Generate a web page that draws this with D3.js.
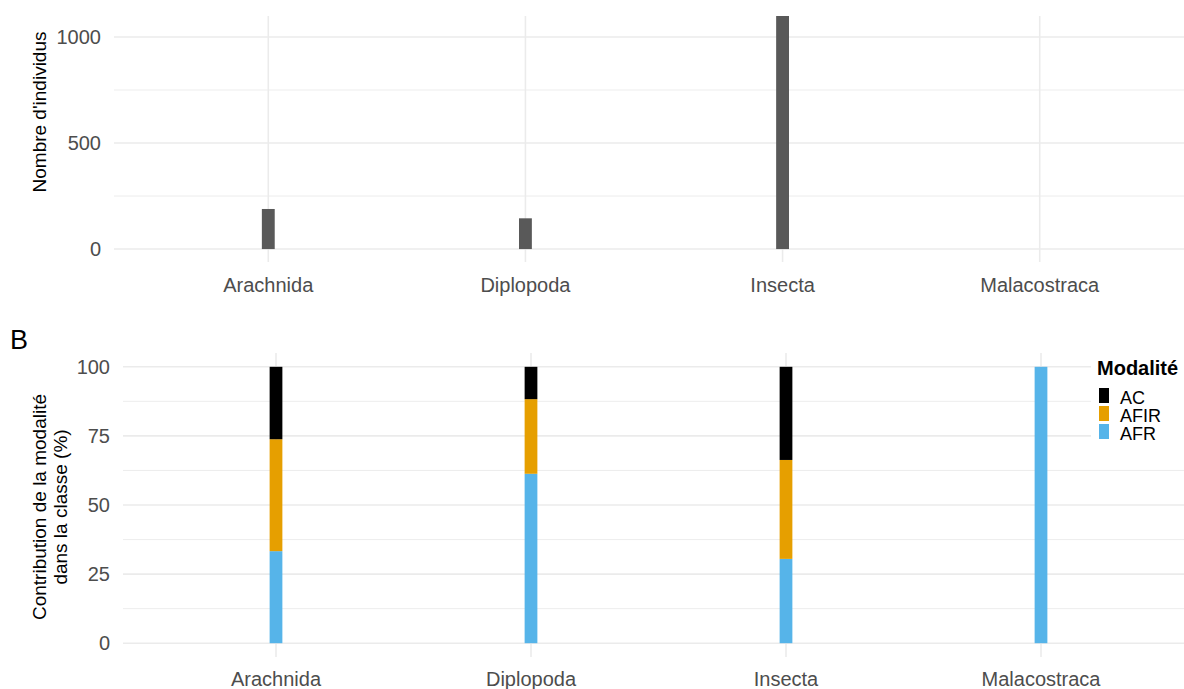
<!DOCTYPE html>
<html>
<head>
<meta charset="utf-8">
<script src="https://cdn.jsdelivr.net/npm/d3@7"></script>
<style>
  html, body { margin: 0; padding: 0; background: #fff; }
  svg { display: block; font-family: "Liberation Sans", Arial, sans-serif; }
</style>
</head>
<body>
<svg id="chart" width="1184" height="689"></svg>
<script>
// ---- Data ----
const categories = ["Arachnida", "Diplopoda", "Insecta", "Malacostraca"];
const individuals = [189, 145, 1220, 0];           // panel A: Nombre d'individus
const modalities = ["AC", "AFIR", "AFR"];           // legend order
const stackOrder = ["AFR", "AFIR", "AC"];           // bottom to top
const pctAFR  = [33.3, 61.3, 30.5, 100];
const pctAFIR = [40.5, 27.0, 35.8, 0];
const pctAC   = [26.2, 11.7, 33.7, 0];
const yTicksA = [0, 500, 1000];
const yTicksB = [0, 25, 50, 75, 100];
const colors = { AC: "#000000", AFIR: "#E69F00", AFR: "#56B4E9" };

const svg = d3.select("#chart");
const W = 1184;
const grid = "#EBEBEB";
const tickCol = "#4D4D4D";

// ---------------- Panel A ----------------
const A = { left: 114, right: 1194, top: 16, bottom: 262 };
const xA = d3.scalePoint().domain(categories).range([A.left, A.right]).padding(0.6);
const yA = d3.scaleLinear().domain([-61, 1099]).range([A.bottom, A.top]);
const stepA = xA.step();

svg.append("clipPath").attr("id", "clipA").append("rect")
  .attr("x", A.left).attr("y", A.top).attr("width", A.right - A.left).attr("height", A.bottom - A.top);

const gA = svg.append("g");
// minor gridlines
gA.selectAll(".minA").data([250, 750]).join("line")
  .attr("x1", A.left).attr("x2", W).attr("y1", d => yA(d)).attr("y2", d => yA(d))
  .attr("stroke", grid).attr("stroke-width", 0.9);
gA.selectAll(".majA").data(yTicksA).join("line")
  .attr("x1", A.left).attr("x2", W).attr("y1", d => yA(d)).attr("y2", d => yA(d))
  .attr("stroke", grid).attr("stroke-width", 1.6);
gA.selectAll(".vA").data(categories).join("line")
  .attr("x1", d => xA(d)).attr("x2", d => xA(d)).attr("y1", A.top).attr("y2", A.bottom)
  .attr("stroke", grid).attr("stroke-width", 1.6);
// bars
gA.append("g").attr("clip-path", "url(#clipA)").selectAll("rect")
  .data(categories.map((c, i) => ({ c, v: individuals[i] }))).join("rect")
  .attr("x", d => xA(d.c) - stepA * 0.025)
  .attr("width", stepA * 0.05)
  .attr("y", d => yA(d.v))
  .attr("height", d => yA(0) - yA(d.v))
  .attr("fill", "#595959");
// y tick labels
gA.selectAll(".ytA").data(yTicksA).join("text")
  .attr("x", 101).attr("y", d => yA(d)).attr("dy", "0.36em")
  .attr("text-anchor", "end").attr("font-size", 20).attr("fill", tickCol)
  .text(d => d);
// x tick labels
gA.selectAll(".xtA").data(categories).join("text")
  .attr("x", d => xA(d)).attr("y", 292)
  .attr("text-anchor", "middle").attr("font-size", 20).attr("fill", tickCol)
  .text(d => d);
// y title
svg.append("text")
  .attr("transform", "translate(46,112) rotate(-90)")
  .attr("text-anchor", "middle").attr("font-size", 19).attr("fill", "#000")
  .text("Nombre d'individus");

// ---------------- Panel B ----------------
const B = { left: 123, right: 1194, top: 353, bottom: 657 };
const xB = d3.scalePoint().domain(categories).range([B.left, B.right]).padding(0.6);
const yB = d3.scaleLinear().domain([-5, 105]).range([B.bottom, B.top]);
const stepB = xB.step();

const gB = svg.append("g");
gB.selectAll(".minB").data([12.5, 37.5, 62.5, 87.5]).join("line")
  .attr("x1", B.left).attr("x2", W).attr("y1", d => yB(d)).attr("y2", d => yB(d))
  .attr("stroke", grid).attr("stroke-width", 0.9);
gB.selectAll(".majB").data(yTicksB).join("line")
  .attr("x1", B.left).attr("x2", W).attr("y1", d => yB(d)).attr("y2", d => yB(d))
  .attr("stroke", grid).attr("stroke-width", 1.6);
gB.selectAll(".vB").data(categories).join("line")
  .attr("x1", d => xB(d)).attr("x2", d => xB(d)).attr("y1", B.top).attr("y2", B.bottom)
  .attr("stroke", grid).attr("stroke-width", 1.6);

const table = categories.map((c, i) => ({ cat: c, AFR: pctAFR[i], AFIR: pctAFIR[i], AC: pctAC[i] }));
const stacked = d3.stack().keys(stackOrder)(table);
gB.selectAll(".layer").data(stacked).join("g")
  .attr("fill", d => colors[d.key])
  .selectAll("rect").data(d => d).join("rect")
  .attr("x", d => xB(d.data.cat) - stepB * 0.025)
  .attr("width", stepB * 0.05)
  .attr("y", d => yB(d[1]))
  .attr("height", d => yB(d[0]) - yB(d[1]));

gB.selectAll(".ytB").data(yTicksB).join("text")
  .attr("x", 110).attr("y", d => yB(d)).attr("dy", "0.36em")
  .attr("text-anchor", "end").attr("font-size", 20).attr("fill", tickCol)
  .text(d => d);
gB.selectAll(".xtB").data(categories).join("text")
  .attr("x", d => xB(d)).attr("y", 686)
  .attr("text-anchor", "middle").attr("font-size", 20).attr("fill", tickCol)
  .text(d => d);
const yt = svg.append("text")
  .attr("transform", "translate(0,507) rotate(-90)")
  .attr("text-anchor", "middle").attr("font-size", 19).attr("fill", "#000");
yt.append("tspan").attr("x", 0).attr("y", 46).text("Contribution de la modalité");
yt.append("tspan").attr("x", 0).attr("y", 67).text("dans la classe (%)");

// tag
svg.append("text").attr("x", 10).attr("y", 349).attr("font-size", 27).attr("fill", "#000").text("B");

// legend
const lg = svg.append("g");
lg.append("rect").attr("x", 1091).attr("y", 352).attr("width", W - 1091).attr("height", 95).attr("fill", "#fff");
lg.append("text").attr("x", 1097).attr("y", 375).attr("font-size", 20).attr("font-weight", "bold")
  .attr("fill", "#000").text("Modalité");
const items = lg.selectAll(".it").data(modalities).join("g")
  .attr("transform", (d, i) => `translate(1099,${388 + i * 18})`);
items.append("rect").attr("width", 10).attr("height", 15).attr("fill", d => colors[d]);
items.append("text").attr("x", 21).attr("y", 15.5).attr("font-size", 18).attr("fill", "#000").text(d => d);
</script>
</body>
</html>
